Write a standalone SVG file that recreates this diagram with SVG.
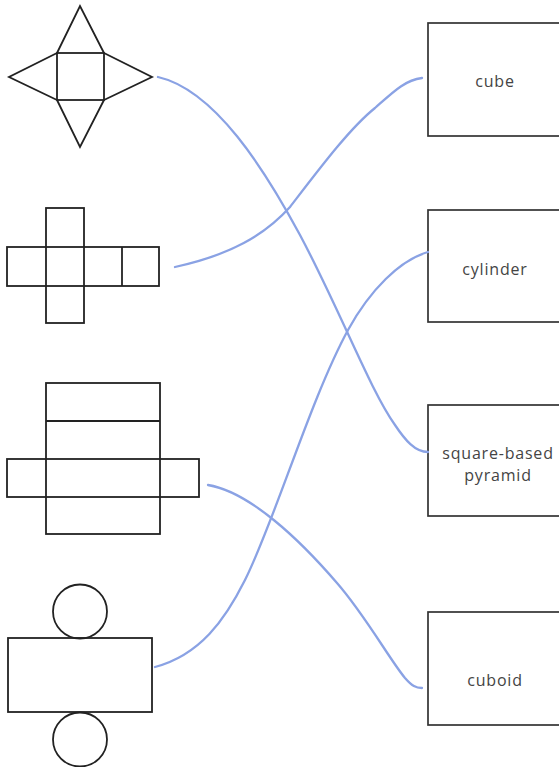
<svg xmlns="http://www.w3.org/2000/svg" width="559" height="767" viewBox="0 0 559 767">
<style>
.net{fill:none;stroke:#222;stroke-width:1.8;stroke-linejoin:miter}
.box{fill:#fff;stroke:#333;stroke-width:1.7}
.lbl{font-family:"Open Sans","DejaVu Sans",sans-serif;font-size:16px;letter-spacing:0.8px;fill:#444;text-anchor:middle}
.link{fill:none;stroke:#8aa2e4;stroke-width:2.3;stroke-linecap:round}
</style>
<rect width="559" height="767" fill="#fff"/>
<g id="net-pyramid">
<rect class="net" x="57" y="53" width="47" height="47"/>
<polyline class="net" points="57,53 80,6 104,53"/>
<polyline class="net" points="57,53 9,77 57,100"/>
<polyline class="net" points="104,53 152,77 104,100"/>
<polyline class="net" points="57,100 80,147 104,100"/>
</g>
<g id="net-cube">
<rect class="net" x="46" y="208" width="38" height="115"/>
<rect class="net" x="7" y="247" width="152" height="39"/>
<line class="net" x1="122" y1="247" x2="122" y2="286"/>
</g>
<g id="net-cuboid">
<rect class="net" x="46" y="383" width="114" height="151"/>
<line class="net" x1="46" y1="421" x2="160" y2="421"/>
<rect class="net" x="7" y="459" width="192" height="38"/>
</g>
<g id="net-cylinder">
<circle class="net" cx="80" cy="611.5" r="27"/>
<rect class="net" x="8" y="638" width="144" height="74"/>
<circle class="net" cx="80" cy="739.5" r="27"/>
</g>
<g id="box-cube">
<rect class="box" x="428" y="23" width="135" height="113"/>
<text class="lbl" x="495" y="87">cube</text>
</g>
<g id="box-cylinder">
<rect class="box" x="428" y="210" width="135" height="112"/>
<text class="lbl" x="495" y="275">cylinder</text>
</g>
<g id="box-pyramid">
<rect class="box" x="428" y="405" width="135" height="111"/>
<text class="lbl" x="498" y="459">square-based</text>
<text class="lbl" x="498" y="481">pyramid</text>
</g>
<g id="box-cuboid">
<rect class="box" x="428" y="612" width="135" height="113"/>
<text class="lbl" x="495" y="686">cuboid</text>
</g>
<g id="connectors">
<path class="link" d="M158,77 C215,90 265,170 300,235 C340,310 370,390 395,425 C405,440 415,452 428,452"/>
<path class="link" d="M175,267 C230,255 265,235 290,207 C320,168 350,128 375,108 C393,92 405,80 422,78"/>
<path class="link" d="M155,667 C200,655 225,620 245,580 C275,520 310,400 348,330 C370,290 400,260 428,252"/>
<path class="link" d="M208,485 C250,492 300,540 337,583 C365,615 390,660 405,678 C412,686 416,688 422,688"/>
</g>
</svg>
